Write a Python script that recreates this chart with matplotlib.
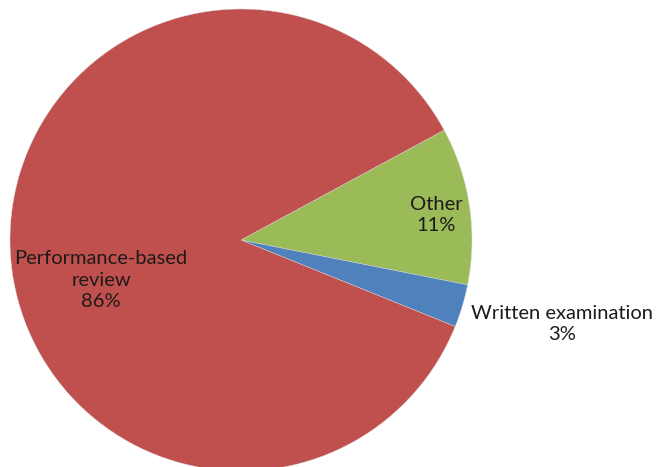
import matplotlib
matplotlib.use("Agg")
import matplotlib.pyplot as plt

categories = ["Other", "Written examination", "Performance-based\nreview"]
values = [11, 3, 86]
colors = ["#9BBB59", "#4F81BD", "#C0504D"]

W, H = 656, 467
cx, cy, R = 241, 240, 231

fig = plt.figure(figsize=(W / 100, H / 100), dpi=100)
ax = fig.add_axes([0, 0, 1, 1])
wedges, _ = ax.pie(values, colors=colors, startangle=28.4, counterclock=False,
                   radius=1.0, center=(0, 0),
                   wedgeprops=dict(linewidth=0.3, edgecolor="#dddddd"))
ax.set_xlim(-cx / R, (W - cx) / R)
ax.set_ylim(-(H - cy) / R, cy / R)
ax.set_aspect("auto")
ax.axis("off")

def px(x, y):
    return ((x - cx) / R, (cy - y) / R)

font = dict(family=["Lato", "DejaVu Sans"], fontweight="normal", fontsize=14.5,
            color="#1e1a1a", ha="center", va="center", linespacing=1.3)
label_pos = [(436, 215), (562, 324), (101, 280)]
for cat, v, (x, y) in zip(categories, values, label_pos):
    ax.text(*px(x, y), f"{cat}\n{v}%", **font)

fig.savefig("out.png", dpi=100)
